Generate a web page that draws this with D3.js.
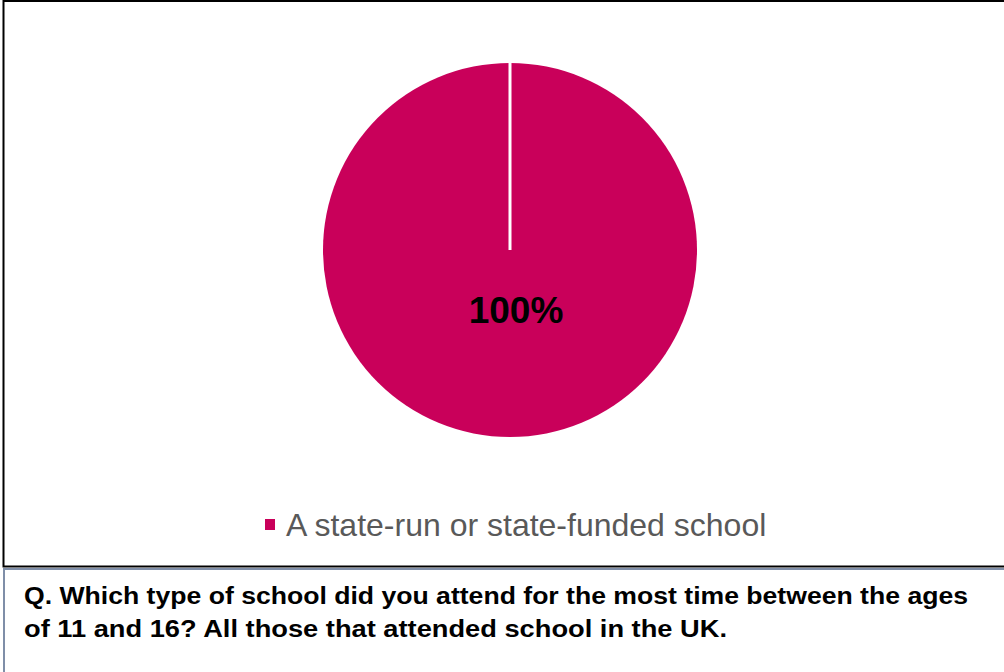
<!DOCTYPE html>
<html>
<head>
<meta charset="utf-8">
<script src="https://cdn.jsdelivr.net/npm/d3@7"></script>
<style>
  body { margin: 0; background: #fff; }
  svg { display: block; font-family: "Liberation Sans", Arial, sans-serif; }
</style>
</head>
<body>
<svg width="1004" height="672"></svg>
<script>
// data
var categories = ["A state-run or state-funded school"];
var values = [100];
var colors = ["#c9005a"];
var questionLines = [
    "Q. Which type of school did you attend for the most time between the ages",
    "of 11 and 16? All those that attended school in the UK."
];

var svg = d3.select("svg");

// frames
svg.append("rect")
    .attr("x", 3.5).attr("y", 1).attr("width", 1010).attr("height", 565.5)
    .attr("fill", "none").attr("stroke", "#000").attr("stroke-width", 2);
svg.append("rect")
    .attr("x", 4).attr("y", 569).attr("width", 1010).attr("height", 120)
    .attr("fill", "none").attr("stroke", "#7f8ea8").attr("stroke-width", 2);

// pie
var cx = 510, cy = 250, r = 187;
var pie = d3.pie().sort(null).value(function (d) { return d; });
var arcs = pie(values);
var arc = d3.arc().innerRadius(0).outerRadius(r);

var g = svg.append("g").attr("transform", "translate(" + cx + "," + cy + ")");

g.selectAll(".slice")
    .data(arcs)
    .enter().append("path")
    .attr("class", "slice")
    .attr("d", arc)
    .attr("fill", function (d, i) { return colors[i]; });

// slice border line from centre (Excel draws it even for a full circle)
g.selectAll(".edge")
    .data(arcs)
    .enter().append("line")
    .attr("class", "edge")
    .attr("x1", 0).attr("y1", 0)
    .attr("x2", function (d) { return r * Math.sin(d.startAngle); })
    .attr("y2", function (d) { return -r * Math.cos(d.startAngle); })
    .attr("stroke", "#fff").attr("stroke-width", 3);

// data label
g.selectAll(".lbl")
    .data(arcs)
    .enter().append("text")
    .attr("class", "lbl")
    .attr("x", 6).attr("y", 73)
    .attr("text-anchor", "middle")
    .attr("font-size", 37).attr("font-weight", "bold")
    .attr("fill", "#000")
    .text(function (d) { return Math.round(d.value) + "%"; });

// legend
var legend = svg.append("g").attr("transform", "translate(265,519)");
legend.selectAll("rect")
    .data(categories)
    .enter().append("rect")
    .attr("width", 10).attr("height", 11)
    .attr("fill", function (d, i) { return colors[i]; });
legend.selectAll("text")
    .data(categories)
    .enter().append("text")
    .attr("x", 21).attr("y", 17)
    .attr("font-size", 32).attr("fill", "#595959")
    .text(function (d) { return d; });

// question
svg.selectAll(".q")
    .data(questionLines)
    .enter().append("text")
    .attr("class", "q")
    .attr("x", 24)
    .attr("y", function (d, i) { return 604 + i * 33; })
    .attr("font-size", 23).attr("font-weight", "bold")
    .attr("fill", "#000")
    .attr("textLength", function (d, i) { return i === 0 ? 944 : 703; })
    .attr("lengthAdjust", "spacingAndGlyphs")
    .text(function (d) { return d; });
</script>
</body>
</html>
